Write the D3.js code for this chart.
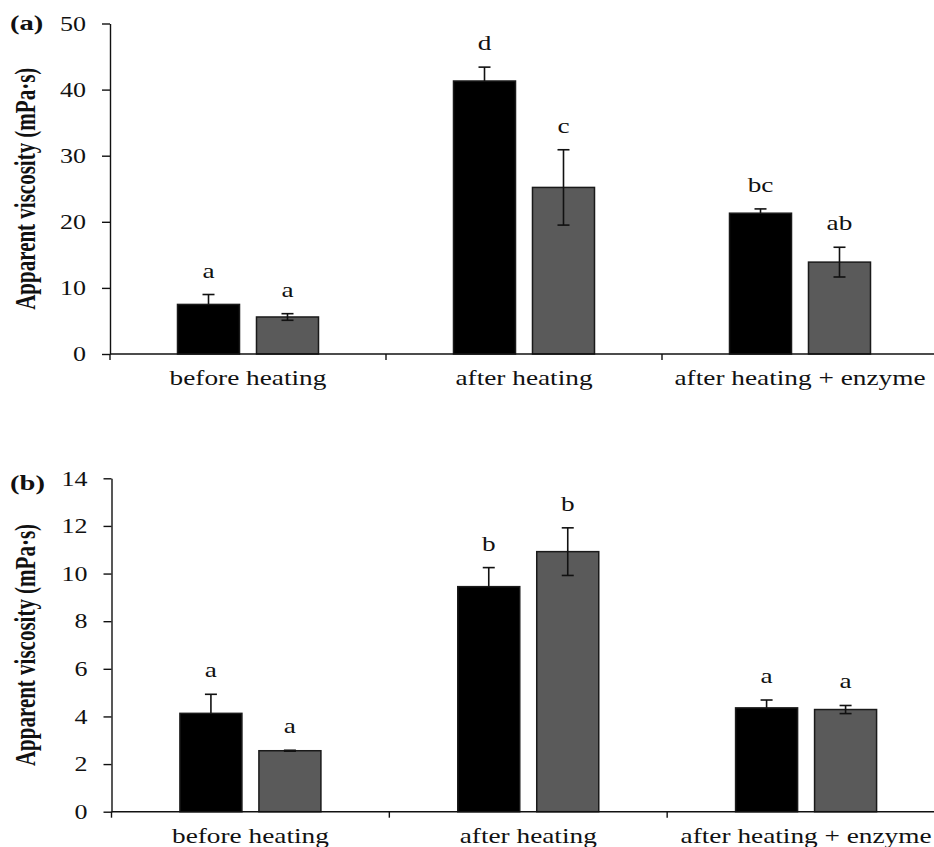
<!DOCTYPE html>
<html>
<head>
<meta charset="utf-8">
<script src="https://cdn.jsdelivr.net/npm/d3@7"></script>
<style>
  html, body { margin: 0; padding: 0; background: #fff; }
  svg { display: block; }
  text { font-family: "Liberation Serif", "Times New Roman", serif; fill: #111; }
</style>
</head>
<body>
<svg id="chart" width="934" height="847"></svg>
<script>
// ---------- DATA ----------
const categories = ["before heating", "after heating", "after heating + enzyme"];
const series = ["black", "gray"];

const panelAValuesBlack = [7.5, 41.3, 21.3];
const panelAErrorsBlack = [1.5, 2.1, 0.65];
const panelAValuesGray  = [5.6, 25.2, 13.9];
const panelAErrorsGray  = [0.5, 5.7, 2.25];
const panelALettersBlack = ["a", "d", "bc"];
const panelALettersGray  = ["a", "c", "ab"];
const panelATicks = [0, 10, 20, 30, 40, 50];

const panelBValuesBlack = [4.13, 9.45, 4.36];
const panelBErrorsBlack = [0.8, 0.8, 0.33];
const panelBValuesGray  = [2.56, 10.92, 4.29];
const panelBErrorsGray  = [0.02, 1.0, 0.17];
const panelBLettersBlack = ["a", "b", "a"];
const panelBLettersGray  = ["a", "b", "a"];
const panelBTicks = [0, 2, 4, 6, 8, 10, 12, 14];

const yTitle = "Apparent viscosity (mPa\u00B7s)";

// ---------- DRAW ----------
const svg = d3.select("#chart");
const SX = 1.3;   // horizontal stretch of the reference text
const fillColor = { black: "#000000", gray: "#5a5a5a" };

function drawPanel(cfg) {
  const g = svg.append("g");
  const x = d3.scaleBand().domain(categories).range([cfg.left, cfg.right]).paddingInner(0).paddingOuter(0);
  const bw = x.bandwidth();
  const xs = d3.scaleBand().domain(series).range([bw / 2 - 70.5, bw / 2 + 70.5]).paddingInner(0.215).paddingOuter(0);
  const y = d3.scaleLinear().domain([0, cfg.max]).range([cfg.bottom, cfg.top]);

  const rows = [];
  categories.forEach((c, i) => {
    rows.push({ c, s: "black", v: cfg.vb[i], e: cfg.eb[i], l: cfg.lb[i] });
    rows.push({ c, s: "gray", v: cfg.vg[i], e: cfg.eg[i], l: cfg.lg[i] });
  });

  // bars
  g.selectAll("rect.bar").data(rows).join("rect")
    .attr("class", "bar")
    .attr("x", d => x(d.c) + xs(d.s))
    .attr("width", xs.bandwidth())
    .attr("y", d => y(d.v))
    .attr("height", d => y(0) - y(d.v))
    .attr("fill", d => fillColor[d.s])
    .attr("stroke", "#1a1a1a")
    .attr("stroke-width", 1.5);

  // error bars (lower half hidden inside black bars)
  const eg = g.selectAll("g.err").data(rows).join("g").attr("class", "err")
    .attr("stroke", "#111").attr("stroke-width", 1.6);
  const cx = d => x(d.c) + xs(d.s) + xs.bandwidth() / 2;
  const lowEnd = d => d.s === "black" ? d.v : d.v - d.e;
  eg.append("line").attr("x1", cx).attr("x2", cx)
    .attr("y1", d => y(lowEnd(d))).attr("y2", d => y(d.v + d.e));
  eg.append("line").attr("x1", d => cx(d) - 6).attr("x2", d => cx(d) + 6)
    .attr("y1", d => y(d.v + d.e)).attr("y2", d => y(d.v + d.e));
  eg.filter(d => d.s !== "black").append("line")
    .attr("x1", d => cx(d) - 6).attr("x2", d => cx(d) + 6)
    .attr("y1", d => y(d.v - d.e)).attr("y2", d => y(d.v - d.e));

  // significance letters
  g.selectAll("text.letter").data(rows).join("text")
    .attr("class", "letter")
    .attr("transform", d => `translate(${cx(d)},${y(d.v + d.e) - 17}) scale(${SX},1)`)
    .attr("text-anchor", "middle")
    .attr("font-size", 21)
    .text(d => d.l);

  // y axis
  const ya = g.append("g").attr("transform", `translate(${cfg.left},0)`)
    .call(d3.axisLeft(y).tickValues(cfg.ticks).tickSize(8).tickSizeOuter(0).tickFormat(d3.format("d")));
  ya.select(".domain").attr("stroke", "#111").attr("stroke-width", 1.4);
  ya.selectAll(".tick line").attr("stroke", "#111").attr("stroke-width", 1.4);
  ya.selectAll(".tick text")
    .attr("x", null).attr("dy", "0.34em")
    .attr("transform", `translate(-24,0) scale(${SX},1)`)
    .attr("text-anchor", "end")
    .attr("font-size", 20)
    .attr("font-family", "Liberation Serif, serif")
    .attr("fill", "#111");

  // x axis line
  g.append("line").attr("x1", cfg.left).attr("x2", 934)
    .attr("y1", y(0)).attr("y2", y(0))
    .attr("stroke", "#111").attr("stroke-width", 1.4);
  // x ticks at band boundaries
  g.selectAll("line.xt").data(categories).join("line").attr("class", "xt")
    .attr("x1", d => x(d)).attr("x2", d => x(d))
    .attr("y1", y(0)).attr("y2", y(0) + 6)
    .attr("stroke", "#111").attr("stroke-width", 1.4);
  // x labels
  g.selectAll("text.xl").data(categories).join("text").attr("class", "xl")
    .attr("transform", d => `translate(${x(d) + bw / 2},${y(0) + 31}) scale(${SX},1)`)
    .attr("text-anchor", "middle")
    .attr("font-size", 21)
    .text(d => d);

  // y title
  g.append("text")
    .attr("transform", `translate(35,${(cfg.top + cfg.bottom) / 2}) rotate(-90) scale(1,1.4)`)
    .attr("text-anchor", "middle")
    .attr("font-size", 21)
    .attr("font-weight", "bold")
    .text(yTitle);

  // panel label
  g.append("text")
    .attr("transform", `translate(10,${cfg.labelY}) scale(${SX},1)`)
    .attr("font-size", 22)
    .attr("font-weight", "bold")
    .text(cfg.label);
}

drawPanel({
  label: "(a)", labelY: 30,
  left: 110, right: 938, top: 23.5, bottom: 354, max: 50, ticks: panelATicks,
  vb: panelAValuesBlack, eb: panelAErrorsBlack, vg: panelAValuesGray, eg: panelAErrorsGray,
  lb: panelALettersBlack, lg: panelALettersGray
});
drawPanel({
  label: "(b)", labelY: 490,
  left: 111.5, right: 945, top: 478.3, bottom: 811.7, max: 14, ticks: panelBTicks,
  vb: panelBValuesBlack, eb: panelBErrorsBlack, vg: panelBValuesGray, eg: panelBErrorsGray,
  lb: panelBLettersBlack, lg: panelBLettersGray
});
</script>
</body>
</html>
